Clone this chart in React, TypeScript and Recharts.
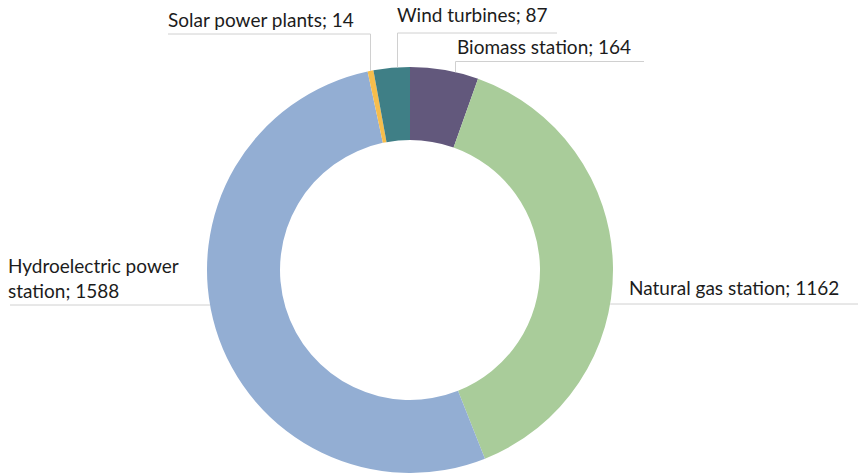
import { PieChart, Pie, Cell } from 'recharts';

const categories = [
  'Biomass station',
  'Natural gas station',
  'Hydroelectric power station',
  'Solar power plants',
  'Wind turbines',
];
const values = [164, 1162, 1588, 14, 87];
const labelLines = [
  ['Biomass station; 164'],
  ['Natural gas station; 1162'],
  ['Hydroelectric power', 'station; 1588'],
  ['Solar power plants; 14'],
  ['Wind turbines; 87'],
];
const colors = ['#62587c', '#a9cc9a', '#93aed3', '#f6bd4c', '#3f7f86'];

const data = categories.map((name, i) => ({ name, value: values[i] }));

// Callout placement, relative to the pie centre.
// 'drop' labels sit above the ring with a vertical connector down to it;
// 'side' labels sit beside the ring with the underline running into it.
type Callout = {
  kind: 'drop' | 'side';
  textX: number;
  textY: number;
  lineY: number;
  left: number;
  right: number;
};
const callouts: Callout[] = [
  { kind: 'drop', textX: 47, textY: -216, lineY: -208.5, left: 45.5, right: 234 },
  { kind: 'side', textX: 219, textY: 25, lineY: 34, left: 0, right: 448 },
  { kind: 'side', textX: -402, textY: 3, lineY: 35, left: -400, right: 0 },
  { kind: 'drop', textX: -242, textY: -243.5, lineY: -236, left: -242, right: -39.5 },
  { kind: 'drop', textX: -13, textY: -248, lineY: -237, left: -12.5, right: 147 },
];

const FONT = 'Lato, "Noto Sans", sans-serif';
const LINE = '#d0d0d0';

const renderCallout = (props: any) => {
  const { cx, cy, outerRadius, index } = props;
  const c = callouts[index];
  const lines = labelLines[index];
  const R = outerRadius;
  let segs: [number, number, number, number][] = [];
  if (c.kind === 'drop') {
    const dropX = index === 3 ? c.right : c.left;
    const ringY = cy - Math.sqrt(R * R - dropX * dropX);
    segs.push([cx + c.left, cy + c.lineY, cx + c.right, cy + c.lineY]);
    segs.push([cx + dropX, cy + c.lineY, cx + dropX, ringY]);
  } else {
    const edge = Math.sqrt(R * R - c.lineY * c.lineY);
    const x1 = c.textX > 0 ? cx + edge : cx + c.left;
    const x2 = c.textX > 0 ? cx + c.right : cx - edge;
    segs.push([x1, cy + c.lineY, x2, cy + c.lineY]);
  }
  return (
    <g key={`callout-${index}`}>
      {segs.map((s, i) => (
        <line key={i} x1={s[0]} y1={s[1]} x2={s[2]} y2={s[3]} stroke={LINE} strokeWidth={1} />
      ))}
      <text x={cx + c.textX} y={cy + c.textY} fill="#1c1c1c" fontSize={19} fontFamily={FONT}>
        {lines.map((t, i) => (
          <tspan key={i} x={cx + c.textX} dy={i === 0 ? 0 : 25}>{t}</tspan>
        ))}
      </text>
    </g>
  );
};

export default function App() {
  return (
    <div style={{ position: 'fixed', left: 0, top: 0, width: 858, height: 473, background: '#fff' }}>
      <PieChart width={858} height={473} margin={{ top: 0, right: 0, bottom: 0, left: 0 }}>
        <Pie
          data={data}
          dataKey="value"
          nameKey="name"
          cx={410}
          cy={270}
          innerRadius={130}
          outerRadius={203}
          startAngle={90}
          endAngle={-270}
          stroke="none"
          label={renderCallout}
          labelLine={false}
          isAnimationActive={false}
        >
          {data.map((d, i) => (
            <Cell key={d.name} fill={colors[i]} />
          ))}
        </Pie>
      </PieChart>
    </div>
  );
}
